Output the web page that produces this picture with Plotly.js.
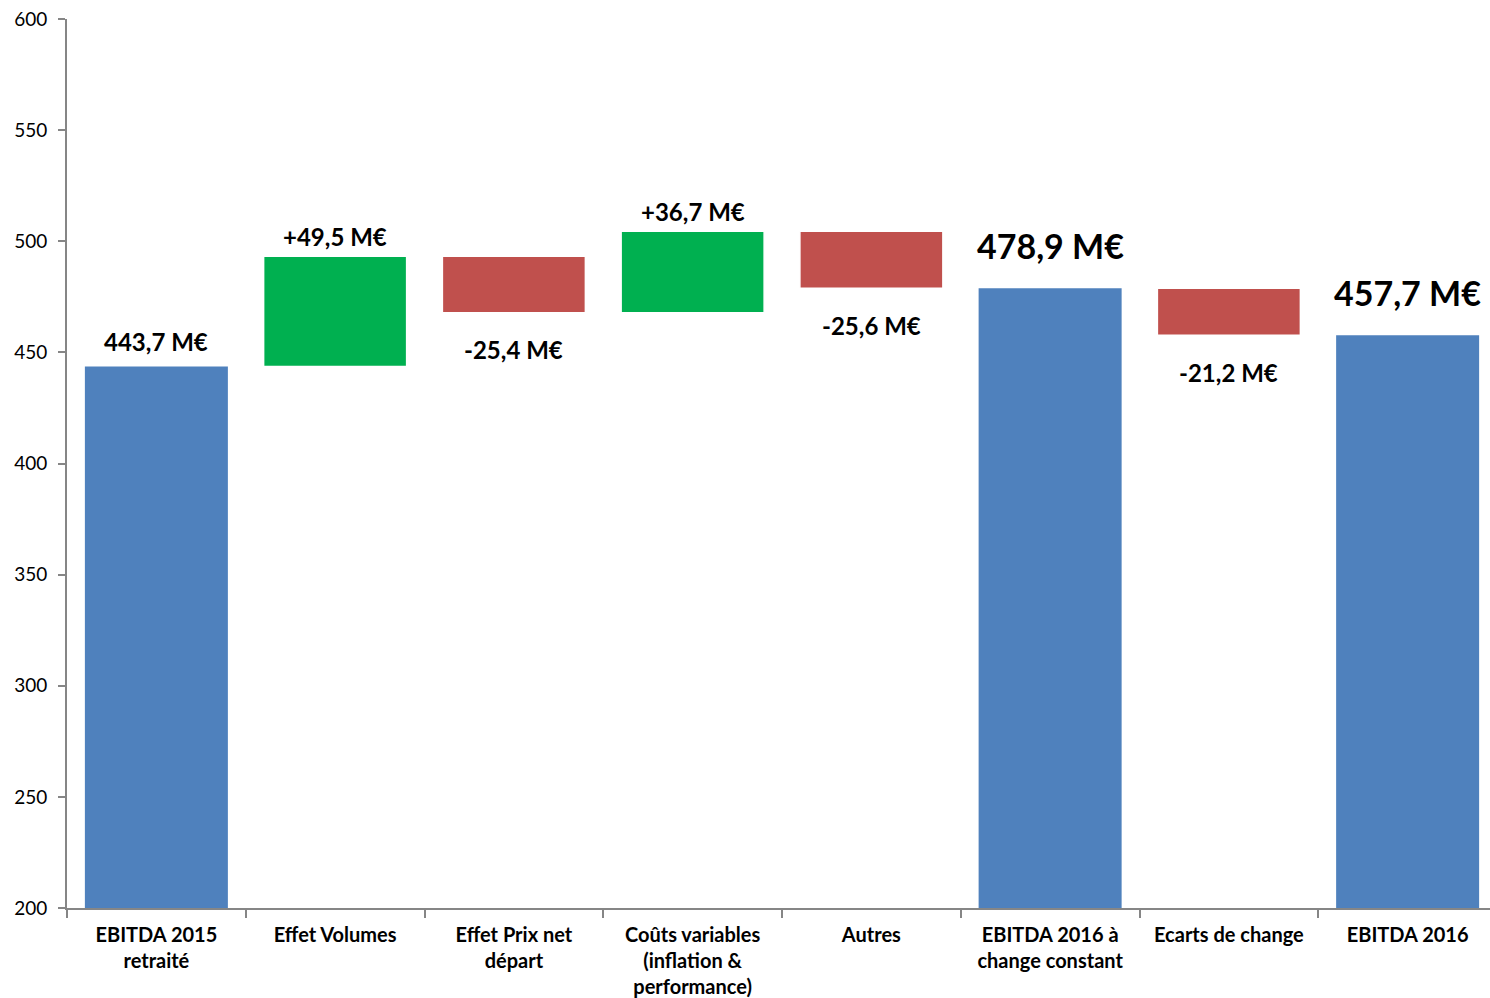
<!DOCTYPE html>
<html>
<head>
<meta charset="utf-8">
<script src="https://cdn.plot.ly/plotly-3.0.1.min.js"></script>
<style>html,body{margin:0;padding:0;background:#fff;overflow:hidden;}#chart{width:1497px;height:998px;}</style>
</head>
<body>
<div id="chart"></div>
<script>
const categories = [
  "EBITDA 2015<br>retraité",
  "Effet Volumes",
  "Effet Prix net<br>départ",
  "Coûts variables<br>(inflation &<br>performance)",
  "Autres",
  "EBITDA 2016 à<br>change constant",
  "Ecarts de change",
  "EBITDA 2016"
];
const measures = ["absolute","relative","relative","relative","relative","total","relative","total"];
const values = [443.7, 49.5, -25.4, 36.7, -25.6, 478.9, -21.2, 457.7];
const yTicks = [200, 250, 300, 350, 400, 450, 500, 550, 600];

const FONT = "Lato, 'Open Sans', sans-serif";

// cumulative levels computed from the data
const ends = [];
let run = 0;
values.forEach((v, i) => {
  if (measures[i] === "absolute") { run = v; }
  else if (measures[i] === "relative") { run += v; }
  ends.push(run);
});

function fmt(v, signed) {
  const s = Math.abs(v).toFixed(1).replace(".", ",") + " M€";
  if (!signed) return s;
  return (v >= 0 ? "+" : "-") + s;
}

const annotations = values.map((v, i) => {
  const m = measures[i];
  let shift, size, text;
  if (m === "absolute") { shift = 25; size = 24; text = fmt(v, false); }
  else if (m === "total") { shift = 43; size = 34; text = fmt(ends[i], false); }
  else if (v >= 0) { shift = 20; size = 24; text = fmt(v, true); }
  else { shift = -37; size = 24; text = fmt(v, true); }
  return {
    x: categories[i], y: ends[i], xref: "x", yref: "y", text: "<b>" + text + "</b>",
    showarrow: false, yshift: shift, yanchor: "middle", xanchor: "center",
    font: {family: FONT, size: size, color: "#000"}
  };
});

const trace = {
  type: "waterfall",
  x: categories,
  y: values,
  measure: measures,
  connector: {visible: false},
  increasing: {marker: {color: "#00B050", line: {color: "#ffffff", width: 1.5}}},
  decreasing: {marker: {color: "#C0504D", line: {color: "#ffffff", width: 1.5}}},
  totals: {marker: {color: "#4F81BD", line: {color: "#4F81BD", width: 0}}},
  hoverinfo: "skip",
  textinfo: "none"
};

const layout = {
  width: 1497, height: 998,
  margin: {l: 67, r: 0, t: 19, b: 90},
  paper_bgcolor: "#fff", plot_bgcolor: "#fff",
  showlegend: false,
  bargap: 0.183,
  font: {family: FONT, color: "#000"},
  xaxis: {
    type: "category",
    showline: true, linecolor: "#868686", linewidth: 2,
    ticks: "outside", tickson: "boundaries", ticklen: 8, tickcolor: "#868686", tickwidth: 2,
    ticklabelstandoff: 8,
    tickfont: {family: FONT, size: 20, color: "#000", weight: "bold"},
    showgrid: false, zeroline: false, fixedrange: true
  },
  yaxis: {
    range: [200, 600],
    tickvals: yTicks, ticktext: yTicks.map(String),
    showline: true, linecolor: "#868686", linewidth: 2,
    ticks: "outside", ticklen: 7, tickcolor: "#868686", tickwidth: 2,
    ticklabelstandoff: 7,
    tickfont: {family: FONT, size: 19, color: "#000"},
    showgrid: false, zeroline: false, fixedrange: true
  },
  annotations: annotations
};

Plotly.newPlot("chart", [trace], layout, {displayModeBar: false, staticPlot: true});
</script>
</body>
</html>
